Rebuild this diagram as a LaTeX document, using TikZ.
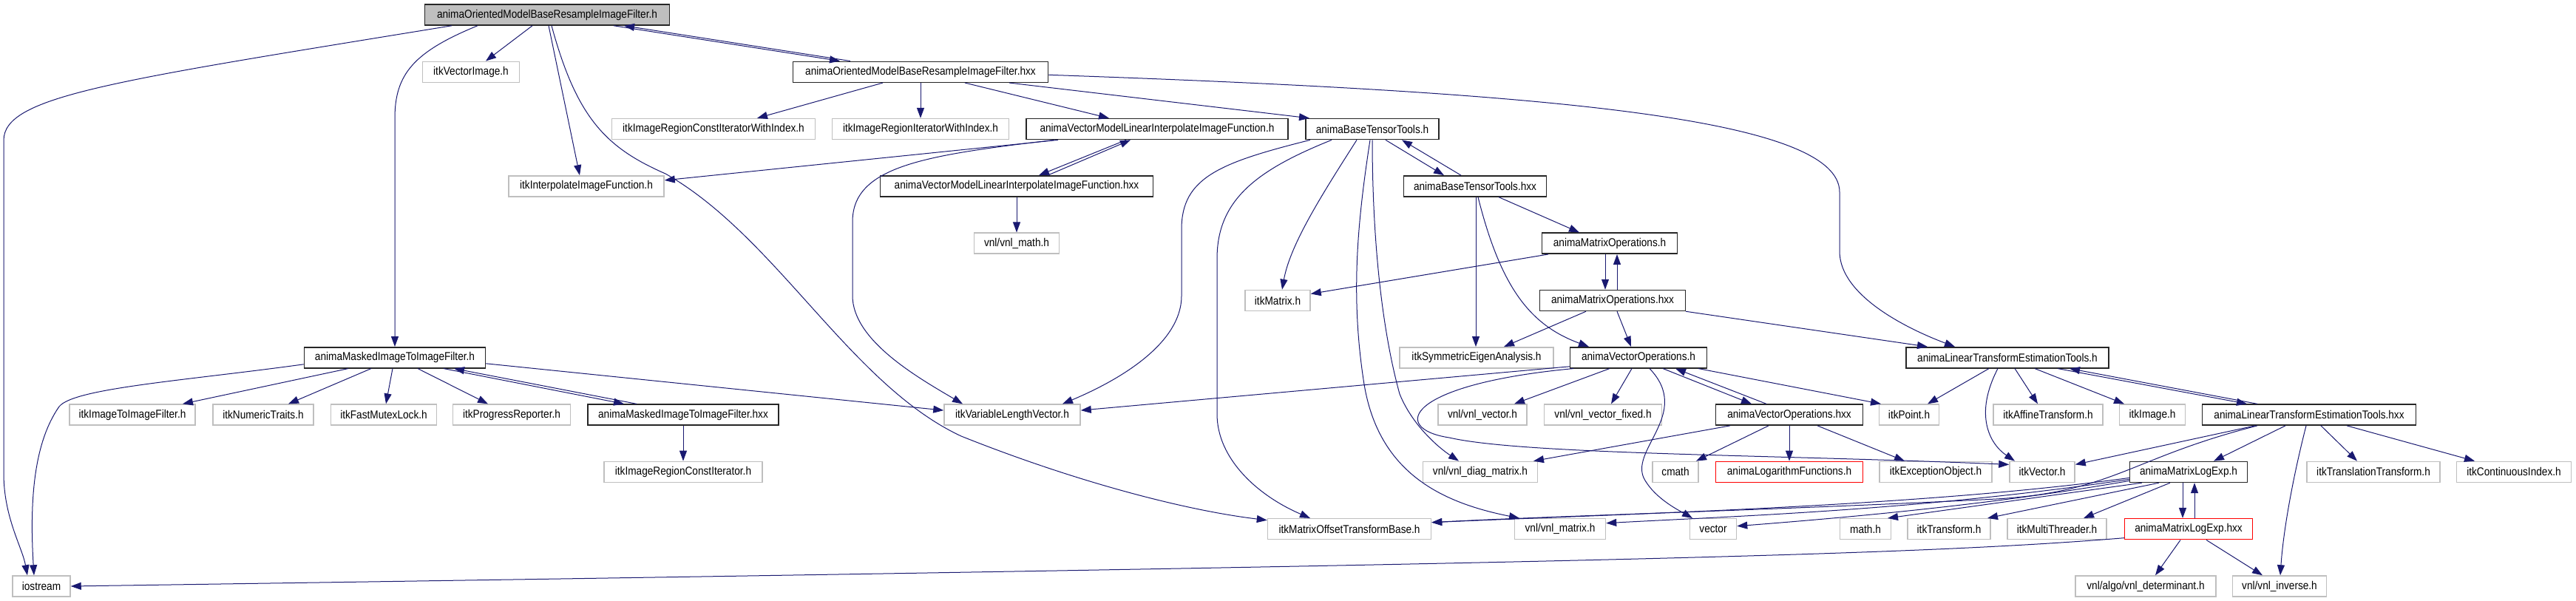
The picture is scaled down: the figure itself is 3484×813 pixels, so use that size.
\documentclass[tikz,border=0pt]{standalone}
\usepackage{fontspec}
\setmainfont{Liberation Sans}[FakeStretch=0.88]
\usepackage{xcolor}
\usepackage{tikz}
\usetikzlibrary{arrows.meta, positioning}

\definecolor{edgeblue}{RGB}{25,25,112}
\definecolor{lightedge}{RGB}{191,191,191}
\definecolor{graybox}{RGB}{191,191,191}

\begin{document}
\begin{tikzpicture}[
    x=1pt, y=-1pt,
    hdr/.style={draw, minimum height=28pt, inner xsep=2pt, inner ysep=0pt, line width=1.5pt, font=\fontsize{15.5}{17}\selectfont},
    mainhdr/.style={hdr, draw=black!85, fill=graybox},
    prjhdr/.style={hdr, draw=black!85, fill=white},
    exthdr/.style={hdr, draw=lightedge, fill=white},
    redhdr/.style={hdr, draw=red, fill=white},
    arr/.style={-{Triangle[length=14pt, width=10pt]}, draw=edgeblue, line width=1pt},
]
\useasboundingbox (0,0) rectangle (3484,813);

% Row 0 — the documented file
\node[mainhdr, minimum width=331pt] (main) at (740,20) {animaOrientedModelBaseResampleImageFilter.h};

% Row 1
\node[exthdr, minimum width=131pt] (vecimg) at (637,97.3) {itkVectorImage.h};
\node[prjhdr, minimum width=345pt] (mainhxx) at (1245,97.3) {animaOrientedModelBaseResampleImageFilter.hxx};

% Row 2
\node[exthdr, minimum width=275pt] (constitidx) at (965,174.6) {itkImageRegionConstIteratorWithIndex.h};
\node[exthdr, minimum width=239pt] (itidx) at (1245,174.6) {itkImageRegionIteratorWithIndex.h};
\node[prjhdr, minimum width=354pt] (vmlih) at (1565,174.6) {animaVectorModelLinearInterpolateImageFunction.h};
\node[prjhdr, minimum width=180pt] (btth) at (1856,174.6) {animaBaseTensorTools.h};

% Row 3
\node[exthdr, minimum width=210pt] (interp) at (793,251.9) {itkInterpolateImageFunction.h};
\node[prjhdr, minimum width=369pt] (vmlihxx) at (1375,251.9) {animaVectorModelLinearInterpolateImageFunction.hxx};
\node[prjhdr, minimum width=193pt] (btthxx) at (1995,251.9) {animaBaseTensorTools.hxx};

% Row 4
\node[exthdr, minimum width=115pt] (vnlmath) at (1375,329.2) {vnl/vnl\_math.h};
\node[prjhdr, minimum width=183pt] (matoph) at (2177,329.2) {animaMatrixOperations.h};

% Row 5
\node[exthdr, minimum width=88pt] (itkmatrix) at (1728,406.5) {itkMatrix.h};
\node[prjhdr, minimum width=197pt] (matophxx) at (2181,406.5) {animaMatrixOperations.hxx};

% Row 6
\node[prjhdr, minimum width=245pt] (maskedh) at (534,483.8) {animaMaskedImageToImageFilter.h};
\node[exthdr, minimum width=208pt] (symeig) at (1997,483.8) {itkSymmetricEigenAnalysis.h};
\node[prjhdr, minimum width=185pt] (vecoph) at (2216,483.8) {animaVectorOperations.h};
\node[prjhdr, minimum width=274pt] (lteh) at (2715,483.8) {animaLinearTransformEstimationTools.h};

% Row 7
\node[exthdr, minimum width=170pt] (imgtoimg) at (179,561.1) {itkImageToImageFilter.h};
\node[exthdr, minimum width=136pt] (numtraits) at (356,561.1) {itkNumericTraits.h};
\node[exthdr, minimum width=143pt] (mutex) at (519,561.1) {itkFastMutexLock.h};
\node[exthdr, minimum width=159pt] (progress) at (692,561.1) {itkProgressReporter.h};
\node[prjhdr, minimum width=258pt] (maskedhxx) at (924,561.1) {animaMaskedImageToImageFilter.hxx};
\node[exthdr, minimum width=184pt] (varlen) at (1369,561.1) {itkVariableLengthVector.h};
\node[exthdr, minimum width=120pt] (vnlvec) at (2005,561.1) {vnl/vnl\_vector.h};
\node[exthdr, minimum width=159pt] (vnlvecfix) at (2168,561.1) {vnl/vnl\_vector\_fixed.h};
\node[prjhdr, minimum width=199pt] (vecophxx) at (2420,561.1) {animaVectorOperations.hxx};
\node[exthdr, minimum width=81pt] (point) at (2582,561.1) {itkPoint.h};
\node[exthdr, minimum width=148pt] (affine) at (2770,561.1) {itkAffineTransform.h};
\node[exthdr, minimum width=89pt] (image) at (2911,561.1) {itkImage.h};
\node[prjhdr, minimum width=289pt] (ltehxx) at (3123,561.1) {animaLinearTransformEstimationTools.hxx};

% Row 8
\node[exthdr, minimum width=214pt] (constit) at (924,638.4) {itkImageRegionConstIterator.h};
\node[exthdr, minimum width=155pt] (diagmat) at (2002,638.4) {vnl/vnl\_diag\_matrix.h};
\node[exthdr, minimum width=62pt] (cmath) at (2266,638.4) {cmath};
\node[redhdr, minimum width=199pt] (logfun) at (2420,638.4) {animaLogarithmFunctions.h};
\node[exthdr, minimum width=152pt] (excobj) at (2618,638.4) {itkExceptionObject.h};
\node[exthdr, minimum width=88pt] (itkvector) at (2762,638.4) {itkVector.h};
\node[prjhdr, minimum width=159pt] (mlogh) at (2960,638.4) {animaMatrixLogExp.h};
\node[exthdr, minimum width=180pt] (transl) at (3210,638.4) {itkTranslationTransform.h};
\node[exthdr, minimum width=155pt] (contidx) at (3400,638.4) {itkContinuousIndex.h};

% Row 9
\node[exthdr, minimum width=221pt] (mobase) at (1825,715.7) {itkMatrixOffsetTransformBase.h};
\node[exthdr, minimum width=123pt] (vnlmat) at (2110,715.7) {vnl/vnl\_matrix.h};
\node[exthdr, minimum width=63pt] (vector) at (2317,715.7) {vector};
\node[exthdr, minimum width=69pt] (mathh) at (2523,715.7) {math.h};
\node[exthdr, minimum width=112pt] (transf) at (2636,715.7) {itkTransform.h};
\node[exthdr, minimum width=134pt] (threader) at (2782,715.7) {itkMultiThreader.h};
\node[redhdr, minimum width=173pt] (mloghxx) at (2960,715.7) {animaMatrixLogExp.hxx};

% Row 10
\node[exthdr, minimum width=78pt] (iostream) at (56,793) {iostream};
\node[exthdr, minimum width=190pt] (determ) at (2902,793) {vnl/algo/vnl\_determinant.h};
\node[exthdr, minimum width=127pt] (inverse) at (3083,793) {vnl/vnl\_inverse.h};

% Edges — from the documented file
\draw[arr] ([xshift=-129pt]main.south) .. controls (150,110) and (5,130) .. (5,190) -- (5,640) .. controls (5,700) and (30,740) .. ([xshift=-19pt]iostream.north);
\draw[arr] ([xshift=-20pt]main.south) -- ([xshift=20pt]vecimg.north);
\draw[arr] ([xshift=-94pt]main.south) .. controls (560,70) and (534,100) .. (534,160) -- (maskedh.north);
\draw[arr] ([xshift=2pt]main.south) -- ([xshift=-9pt]interp.north);
\draw[arr] ([xshift=6pt]main.south) .. controls (780,160) and (820,200) .. (900,235) .. controls (1050,320) and (1150,520) .. (1300,590) .. controls (1450,650) and (1600,690) .. ([yshift=12pt]mobase.west);
\draw[arr] ([xshift=90pt]main.south) -- ([xshift=-109pt]mainhxx.north);
\draw[arr] ([xshift=-95pt]mainhxx.north) -- ([xshift=104pt]main.south);

% Edges — from the .hxx of the documented file
\draw[arr] ([xshift=-51pt]mainhxx.south) -- ([xshift=59pt]constitidx.north);
\draw[arr] (mainhxx.south) -- (itidx.north);
\draw[arr] ([xshift=60pt]mainhxx.south) -- ([xshift=-65pt]vmlih.north);
\draw[arr] ([xshift=120pt]mainhxx.south) -- ([xshift=-85pt]btth.north);
\draw[arr] ([yshift=-4pt]mainhxx.east) .. controls (2100,125) and (2488,160) .. (2488,260) -- (2488,340) .. controls (2488,400) and (2580,445) .. ([xshift=-71pt]lteh.north);

% Edges — vector model interpolation
\draw[arr] ([xshift=-134pt]vmlih.south) -- ([yshift=8pt]interp.east);
\draw[arr] ([xshift=-139pt]vmlih.south) .. controls (1250,210) and (1153,225) .. (1153,300) -- (1153,400) .. controls (1153,460) and (1240,510) .. ([xshift=-67pt]varlen.north);
\draw[arr] ([xshift=-42pt]vmlih.south) -- ([xshift=30pt]vmlihxx.north);
\draw[arr] ([xshift=42pt]vmlihxx.north) -- ([xshift=-36pt]vmlih.south);
\draw[arr] (vmlihxx.south) -- (vnlmath.north);

% Edges — base tensor tools
\draw[arr] ([xshift=-84pt]btth.south) .. controls (1650,220) and (1598,240) .. (1598,310) -- (1598,400) .. controls (1598,470) and (1500,520) .. ([xshift=68pt]varlen.north);
\draw[arr] ([xshift=-55pt]btth.south) .. controls (1700,230) and (1646,270) .. (1646,350) -- (1646,560) .. controls (1646,620) and (1700,670) .. ([xshift=-53pt]mobase.north);
\draw[arr] ([xshift=-21pt]btth.south) .. controls (1790,260) and (1745,330) .. ([xshift=6pt]itkmatrix.north);
\draw[arr] ([xshift=-3pt]btth.south) .. controls (1836,300) and (1826,400) .. (1845,520) .. controls (1865,640) and (1950,680) .. ([xshift=-55pt]vnlmat.north);
\draw[arr] (btth.south) .. controls (1856,330) and (1870,450) .. (1893,533) .. controls (1910,575) and (1945,605) .. ([xshift=-29pt]diagmat.north);
\draw[arr] ([xshift=18pt]btth.south) -- ([xshift=-42pt]btthxx.north);
\draw[arr] ([xshift=-19pt]btthxx.north) -- ([xshift=40pt]btth.south);
\draw[arr] ([xshift=1pt]btthxx.south) -- ([xshift=-1pt]symeig.north);
\draw[arr] ([xshift=4pt]btthxx.south) .. controls (2030,390) and (2070,440) .. ([xshift=-67pt]vecoph.north);
\draw[arr] ([xshift=32pt]btthxx.south) -- ([xshift=-41pt]matoph.north);

% Edges — matrix operations
\draw[arr] ([xshift=-83pt]matoph.south) -- ([yshift=9pt]itkmatrix.east);
\draw[arr] ([xshift=-6pt]matoph.south) -- ([xshift=-10pt]matophxx.north);
\draw[arr] ([xshift=6pt]matophxx.north) -- ([xshift=10pt]matoph.south);
\draw[arr] ([xshift=-36pt]matophxx.south) -- ([xshift=37pt]symeig.north);
\draw[arr] ([xshift=6pt]matophxx.south) -- ([xshift=-10pt]vecoph.north);
\draw[arr] ([xshift=99pt]matophxx.south) -- ([xshift=-108pt]lteh.north);

% Edges — vector operations
\draw[arr] ([yshift=-12pt]vecoph.west) -- ([yshift=6pt]varlen.east);
\draw[arr] ([xshift=-88pt]vecoph.south) .. controls (1900,520) and (1880,580) .. (1960,592) .. controls (2060,615) and (2400,615) .. ([yshift=10pt]itkvector.west);
\draw[arr] ([xshift=-39pt]vecoph.south) -- ([xshift=43pt]vnlvec.north);
\draw[arr] ([xshift=-9pt]vecoph.south) -- ([xshift=11pt]vnlvecfix.north);
\draw[arr] ([xshift=15pt]vecoph.south) .. controls (2290,560) and (2200,610) .. (2225,650) .. controls (2240,675) and (2270,690) .. ([xshift=-28pt]vector.north);
\draw[arr] ([xshift=33pt]vecoph.south) -- ([xshift=-51pt]vecophxx.north);
\draw[arr] ([xshift=-31pt]vecophxx.north) -- ([xshift=50pt]vecoph.south);
\draw[arr] ([xshift=81pt]vecoph.south) -- ([xshift=-38pt]point.north);
\draw[arr] ([xshift=-80pt]vecophxx.south) -- ([xshift=72pt]diagmat.north);
\draw[arr] ([xshift=-28pt]vecophxx.south) -- ([xshift=28pt]cmath.north);
\draw[arr] (vecophxx.south) -- (logfun.north);
\draw[arr] ([xshift=38pt]vecophxx.south) -- ([xshift=-42pt]excobj.north);

% Edges — linear transform estimation
\draw[arr] ([xshift=-25pt]lteh.south) -- ([xshift=25pt]point.north);
\draw[arr] ([xshift=-13pt]lteh.south) .. controls (2670,560) and (2690,600) .. ([xshift=-37pt]itkvector.north);
\draw[arr] ([xshift=10pt]lteh.south) -- ([xshift=-14pt]affine.north);
\draw[arr] ([xshift=37pt]lteh.south) -- ([xshift=-38pt]image.north);
\draw[arr] ([xshift=68pt]lteh.south) -- ([xshift=-84pt]ltehxx.north);
\draw[arr] ([xshift=-70pt]ltehxx.north) -- ([xshift=84pt]lteh.south);
\draw[arr] ([xshift=-73pt]ltehxx.south) -- ([yshift=10pt]itkvector.east);
\draw[arr] ([xshift=-32pt]ltehxx.south) -- ([xshift=34pt]mlogh.north);
\draw[arr] ([xshift=16pt]ltehxx.south) -- ([xshift=-22pt]transl.north);
\draw[arr] ([xshift=51pt]ltehxx.south) -- ([xshift=-53pt]contidx.north);
\draw[arr] ([xshift=-4pt]ltehxx.south) .. controls (3100,650) and (3088,720) .. ([xshift=1pt]inverse.north);
\draw[arr] ([xshift=-70pt]ltehxx.south) .. controls (2880,620) and (2860,665) .. (2700,675) .. controls (2400,690) and (2100,698) .. ([yshift=9pt]mobase.east);

% Edges — matrix log / exp
\draw[arr] ([yshift=-8pt]mlogh.west) .. controls (2600,685) and (2200,695) .. ([yshift=9pt]mobase.east);
\draw[arr] ([yshift=-10pt]mlogh.west) .. controls (2600,690) and (2350,698) .. ([yshift=8pt]vnlmat.east);
\draw[arr] ([yshift=-12pt]mlogh.west) .. controls (2700,682) and (2500,700) .. ([yshift=4pt]vector.east);
\draw[arr] ([xshift=-63pt]mlogh.south) -- ([xshift=30pt]mathh.north);
\draw[arr] ([xshift=-40pt]mlogh.south) -- ([xshift=52pt]transf.north);
\draw[arr] ([xshift=-25pt]mlogh.south) -- ([xshift=36pt]threader.north);
\draw[arr] ([xshift=-8pt]mlogh.south) -- ([xshift=-8pt]mloghxx.north);
\draw[arr] ([xshift=8pt]mloghxx.north) -- ([xshift=8pt]mlogh.south);
\draw[arr] ([yshift=-12pt]mloghxx.west) .. controls (2600,750) and (2200,762) .. (iostream.east);
\draw[arr] ([xshift=-11pt]mloghxx.south) -- ([xshift=13pt]determ.north);
\draw[arr] ([xshift=24pt]mloghxx.south) -- ([xshift=-23pt]inverse.north);

% Edges — masked image filter
\draw[arr] ([yshift=-9pt]maskedh.west) .. controls (250,515) and (100,525) .. (80,550) .. controls (45,600) and (40,680) .. ([xshift=-10pt]iostream.north);
\draw[arr] ([xshift=-63pt]maskedh.south) -- ([xshift=68pt]imgtoimg.north);
\draw[arr] ([xshift=-32pt]maskedh.south) -- ([xshift=34pt]numtraits.north);
\draw[arr] ([xshift=-3pt]maskedh.south) -- ([xshift=3pt]mutex.north);
\draw[arr] ([xshift=31pt]maskedh.south) -- ([xshift=-32pt]progress.north);
\draw[arr] ([xshift=66pt]maskedh.south) -- ([xshift=-80pt]maskedhxx.north);
\draw[arr] ([xshift=-63pt]maskedhxx.north) -- ([xshift=80pt]maskedh.south);
\draw[arr] ([yshift=-8pt]maskedh.east) -- ([yshift=6pt]varlen.west);
\draw[arr] (maskedhxx.south) -- (constit.north);

\end{tikzpicture}
\end{document}
